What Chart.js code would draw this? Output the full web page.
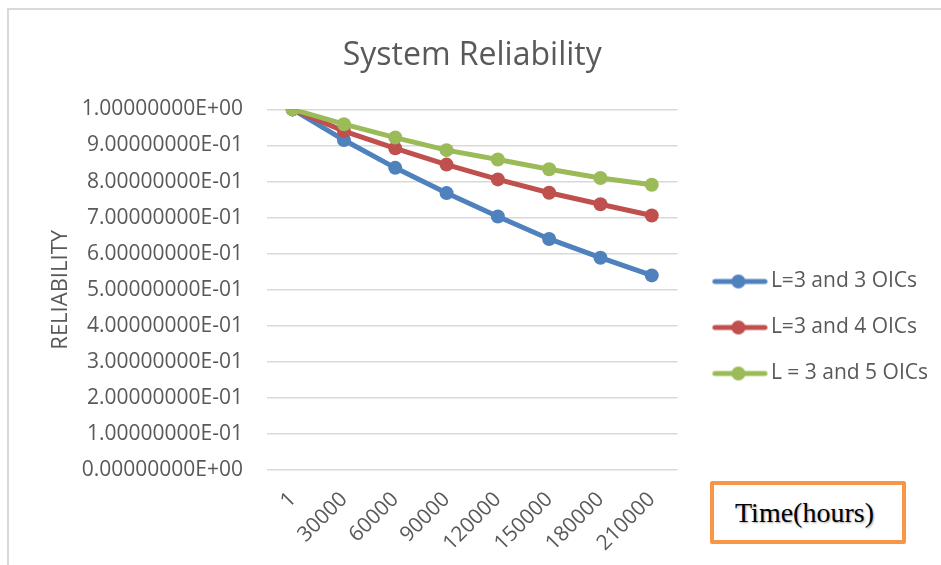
<!DOCTYPE html>
<html>
<head>
<meta charset="utf-8">
<script src="https://cdn.jsdelivr.net/npm/chart.js@4.4.1/dist/chart.umd.min.js"></script>
<style>
  html, body { margin: 0; padding: 0; background: #fff; }
  #wrap { position: relative; width: 941px; height: 565px; overflow: hidden; }
  #frame { position: absolute; left: 7px; top: 8px; width: 1000px; height: 1000px;
           border-left: 2px solid #d9d9d9; border-top: 2px solid #d9d9d9; }
  #timeBox { position: absolute; left: 710px; top: 481px; width: 188px; height: 55px;
             border: 4px solid #f79646; border-radius: 2px; background: #fff;
             font-family: "Liberation Serif", "Times New Roman", serif; font-size: 28px;
             color: #000; line-height: 55px; }
  #timeBox span { margin-left: 21px; text-shadow: 1px 1px 2px rgba(0,0,0,0.35); }
</style>
</head>
<body>
<div id="wrap">
  <div id="frame"></div>
  <canvas id="myChart" width="941" height="565"></canvas>
  <div id="timeBox"><span>Time(hours)</span></div>
</div>
<script>
// time points (hours)
const timeLabels = ['1', '30000', '60000', '90000', '120000', '150000', '180000', '210000'];

// reliability values
const oics3 = [1.000, 0.915, 0.838, 0.768, 0.703, 0.641, 0.589, 0.540];
const oics4 = [1.000, 0.940, 0.892, 0.847, 0.806, 0.769, 0.737, 0.706];
const oics5 = [1.000, 0.959, 0.922, 0.887, 0.861, 0.834, 0.810, 0.791];

const seriesNames = ['L=3 and 3 OICs', 'L=3 and 4 OICs', 'L = 3 and 5 OICs'];
const seriesColors = ['#4f81bd', '#c0504d', '#9bbb59'];

const textColor = '#595959';
const uiFont = '"Open Sans", "DejaVu Sans", sans-serif';

// legend symbol: line with a dot in the middle
// (image is wider than the legend box so the symbol sits further right)
function legendSymbol(color) {
    const c = document.createElement('canvas');
    c.width = 76;
    c.height = 16;
    const g = c.getContext('2d');
    g.strokeStyle = color;
    g.lineWidth = 5;
    g.lineCap = 'round';
    g.beginPath();
    g.moveTo(21.5, 8);
    g.lineTo(71.5, 8);
    g.stroke();
    g.fillStyle = color;
    g.beginPath();
    g.arc(45, 8, 7, 0, Math.PI * 2);
    g.fill();
    return c;
}

// 1.00000000E+00 style labels
function sciFormat(v) {
    const parts = Number(v).toExponential(8).toUpperCase().split('E');
    const sign = parts[1][0];
    let digits = parts[1].slice(1);
    if (digits.length < 2) digits = '0' + digits;
    return parts[0] + 'E' + sign + digits;
}

const allSeries = [oics3, oics4, oics5];
const datasets = allSeries.map((vals, i) => ({
    label: seriesNames[i],
    data: vals,
    borderColor: seriesColors[i],
    backgroundColor: seriesColors[i],
    borderWidth: 5,
    pointRadius: 7,
    pointHoverRadius: 7,
    pointBorderWidth: 0,
    pointStyle: 'circle',
    legendStyle: legendSymbol(seriesColors[i]),
    tension: 0,
    order: allSeries.length - 1 - i
}));

const ctx = document.getElementById('myChart').getContext('2d');

new Chart(ctx, {
    type: 'line',
    data: {
        labels: timeLabels,
        datasets: datasets
    },
    options: {
        responsive: false,
        animation: false,
        layout: {
            padding: { left: 45, right: 3, top: 0, bottom: 0 }
        },
        plugins: {
            title: {
                display: true,
                fullSize: false,
                text: 'System Reliability',
                color: textColor,
                font: { family: uiFont, size: 32, weight: 'normal' },
                padding: { top: 37, bottom: 34 }
            },
            legend: {
                position: 'right',
                maxWidth: 320,
                title: {
                    display: true,
                    text: ' ',
                    font: { size: 10 },
                    padding: { top: 78, bottom: 0 }
                },
                labels: {
                    color: textColor,
                    font: { family: uiFont, size: 21 },
                    usePointStyle: true,
                    pointStyleWidth: 58,
                    padding: 25,
                    generateLabels: chart => chart.data.datasets.map((ds, i) => ({
                        text: ds.label,
                        fillStyle: ds.borderColor,
                        strokeStyle: ds.borderColor,
                        lineWidth: 0,
                        pointStyle: ds.legendStyle,
                        fontColor: textColor,
                        hidden: false,
                        datasetIndex: i
                    }))
                }
            },
            tooltip: { enabled: false }
        },
        scales: {
            x: {
                offset: true,
                grid: { display: false },
                border: { display: false },
                ticks: {
                    color: textColor,
                    font: { family: uiFont, size: 21 },
                    minRotation: 45,
                    maxRotation: 45,
                    padding: 9
                }
            },
            y: {
                min: 0,
                max: 1,
                afterFit: scale => { scale.width = 222; },
                grid: { color: '#d9d9d9', lineWidth: 1.5, drawTicks: false },
                border: { display: false },
                ticks: {
                    stepSize: 0.1,
                    color: textColor,
                    font: { family: uiFont, size: 21 },
                    padding: 24,
                    callback: v => sciFormat(v)
                },
                title: {
                    display: true,
                    text: 'RELIABILITY',
                    color: textColor,
                    font: { family: uiFont, size: 22 },
                    padding: { top: 3, bottom: 0 }
                }
            }
        }
    }
});
</script>
</body>
</html>
